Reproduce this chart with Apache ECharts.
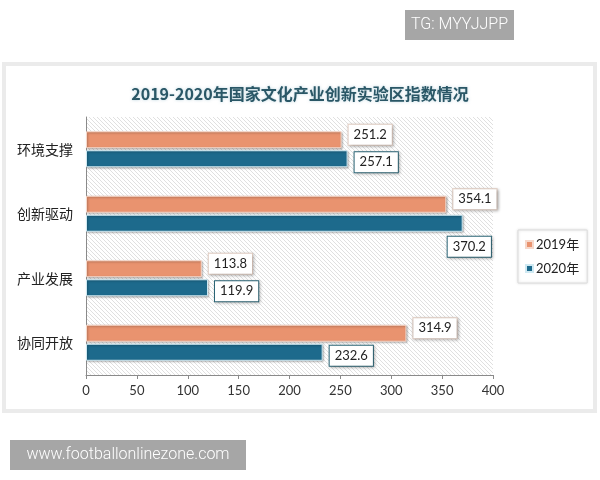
<!DOCTYPE html>
<html>
<head>
<meta charset="utf-8">
<script src="https://cdn.jsdelivr.net/npm/echarts@6/dist/echarts.min.js"></script>
<style>
  html, body { margin: 0; padding: 0; background: #fff; }
  #main { width: 600px; height: 480px; }
</style>
</head>
<body>
<div id="main"></div>
<script>
// 数据
const categories = ['环境支撑', '创新驱动', '产业发展', '协同开放'];
const seriesNames = ['2019年', '2020年'];
const values2019 = [251.2, 354.1, 113.8, 314.9];
const values2020 = [257.1, 370.2, 119.9, 232.6];
const xTicks = { min: 0, max: 400, interval: 50 };

// 斜线底纹
function hatch() {
  const c = document.createElement('canvas');
  c.width = 4; c.height = 4;
  const ctx = c.getContext('2d');
  ctx.fillStyle = '#fff';
  ctx.fillRect(0, 0, 4, 4);
  ctx.strokeStyle = '#e0e0e0';
  ctx.lineWidth = 1;
  ctx.beginPath();
  ctx.moveTo(-1, -1); ctx.lineTo(5, 5);
  ctx.moveTo(-1, 3); ctx.lineTo(1, 5);
  ctx.moveTo(3, -1); ctx.lineTo(5, 1);
  ctx.stroke();
  return c;
}

const FONT = 'Lato, "Noto Sans CJK SC", sans-serif';
const boxLabel = (border, dy) => ({
  show: true,
  position: 'right',
  distance: 7,
  offset: [0, dy],
  fontFamily: FONT,
  fontSize: 13,
  color: '#222',
  backgroundColor: '#fff',
  borderColor: border,
  borderWidth: 1,
  padding: [4, 5, 3, 5],
  shadowColor: 'rgba(0,0,0,0.25)',
  shadowBlur: 3,
  shadowOffsetX: 1,
  shadowOffsetY: 1
});

const chart = echarts.init(document.getElementById('main'));
chart.setOption({
  backgroundColor: '#fff',
  animation: false,
  graphic: [
    { type: 'rect', shape: { x: 4, y: 64, width: 591, height: 347 },
      style: { fill: '#fff', stroke: '#ebebeb', lineWidth: 4 }, z: -10 },
    { type: 'rect', shape: { x: 405, y: 10, width: 109, height: 30 }, style: { fill: '#a6a6a6' } },
    { type: 'text', x: 459.5, y: 25, style: { text: 'TG: MYYJJPP', fill: '#fff', font: '300 16px Roboto', align: 'center', verticalAlign: 'middle' } },
    { type: 'rect', shape: { x: 10, y: 440, width: 236, height: 30 }, style: { fill: '#a6a6a6' } },
    { type: 'text', x: 128, y: 455, style: { text: 'www.footballonlinezone.com', fill: '#fff', font: '300 16px Roboto', align: 'center', verticalAlign: 'middle' } }
  ],
  title: {
    text: '2019-2020年国家文化产业创新实验区指数情况',
    left: 'center',
    top: 81,
    textStyle: {
      fontFamily: '"Noto Sans CJK SC", serif',
      fontSize: 16,
      fontWeight: 'bold',
      color: '#2a5766',
      textShadowColor: 'rgba(120,170,190,0.5)',
      textShadowBlur: 3
    }
  },
  legend: {
    data: seriesNames,
    orient: 'vertical',
    left: 518,
    top: 230,
    itemWidth: 7,
    itemHeight: 7,
    itemGap: 11,
    icon: 'rect',
    padding: [8, 8, 8, 7],
    backgroundColor: '#fff',
    borderColor: '#dcdcdc',
    borderWidth: 1,
    shadowColor: 'rgba(0,0,0,0.15)',
    shadowBlur: 3,
    textStyle: { fontFamily: FONT, fontSize: 13, color: '#222', padding: [0, 0, 0, -2] }
  },
  grid: {
    left: 86, right: 107, top: 117, bottom: 105,
    show: true,
    borderWidth: 0,
    backgroundColor: { image: hatch(), repeat: 'repeat' }
  },
  xAxis: {
    type: 'value',
    min: xTicks.min, max: xTicks.max, interval: xTicks.interval,
    splitLine: { show: false },
    axisLine: { show: true, lineStyle: { color: '#8a8a8a' } },
    axisTick: { show: true, length: 4, lineStyle: { color: '#8a8a8a' } },
    axisLabel: { fontFamily: FONT, fontSize: 13, color: '#333', margin: 9 }
  },
  yAxis: {
    type: 'category',
    data: categories,
    inverse: true,
    axisLine: { lineStyle: { color: '#8a8a8a' } },
    axisTick: { length: 4, lineStyle: { color: '#8a8a8a' } },
    axisLabel: { fontFamily: '"Noto Sans CJK SC", sans-serif', fontSize: 14, color: '#222', margin: 13 }
  },
  series: [
    {
      name: seriesNames[0],
      type: 'bar',
      data: values2019,
      barWidth: 17,
      barGap: '12%',
      itemStyle: { color: '#e9936f', borderColor: '#f6d8cb', borderWidth: 1,
        shadowColor: 'rgba(0,0,0,0.3)', shadowBlur: 2, shadowOffsetX: 1, shadowOffsetY: 1 },
      label: boxLabel('#e3cfc4', -5)
    },
    {
      name: seriesNames[1],
      type: 'bar',
      data: values2020.map((v, i) => i === 1 ? {
        value: v,
        label: { position: ['100%', '100%'], offset: [-15, 5], align: 'left', verticalAlign: 'top' }
      } : v),
      barWidth: 17,
      itemStyle: { color: '#1d6a8c', borderColor: '#cfe9f2', borderWidth: 1,
        shadowColor: 'rgba(0,0,0,0.3)', shadowBlur: 2, shadowOffsetX: 1, shadowOffsetY: 1 },
      label: boxLabel('#2c6778', 3.5)
    }
  ]
});
</script>
</body>
</html>
